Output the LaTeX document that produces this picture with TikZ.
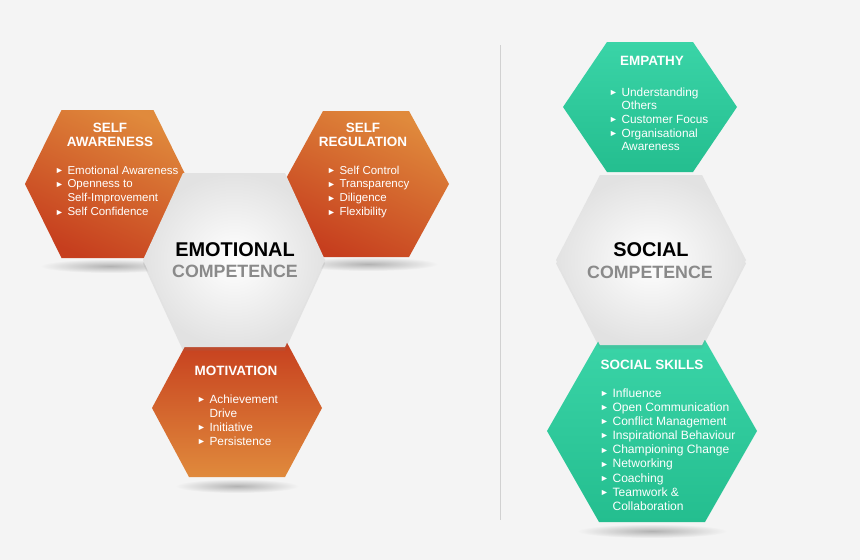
\documentclass[tikz,border=0pt]{standalone}
\usepackage{fontspec}
\setmainfont{Liberation Sans}
\usetikzlibrary{shadows}

\definecolor{bgcol}{HTML}{F4F4F4}
\definecolor{orangeLt}{HTML}{E08A3C}
\definecolor{orangeDk}{HTML}{C63E1E}
\definecolor{greenLt}{HTML}{3AD4A7}
\definecolor{greenDk}{HTML}{24BE8F}
\definecolor{titleGray}{HTML}{8A8A8A}
\definecolor{hexGray}{HTML}{E2E2E2}

% hexagon: centre x, centre y, half width, half top edge, half height
\newcommand{\hexpath}[5]{(#1-#3,#2) -- (#1-#4,#2-#5) -- (#1+#4,#2-#5) -- (#1+#3,#2) -- (#1+#4,#2+#5) -- (#1-#4,#2+#5) -- cycle}
\newcommand{\tri}{\raisebox{0.6pt}{\fontsize{7.6}{7}\selectfont ►}}

\begin{document}
\begin{tikzpicture}[x=0.03cm,y=-0.03cm]
  %----- styles
  \tikzset{
    orangehex/.style ={top color=orangeLt,bottom color=orangeDk,shading angle=-25},
    motivhex/.style  ={top color=orangeDk,bottom color=orangeLt},
    greenhex/.style  ={top color=greenLt,bottom color=greenDk},
    corehex/.style   ={inner color=white,outer color=hexGray,
                       drop shadow={opacity=0.15,shadow xshift=0pt,shadow yshift=-3pt}},
    blob/.style      ={inner color=black!30,outer color=bgcol},
    headtxt/.style   ={text=white,font=\fontsize{11.5}{12}\selectfont\bfseries,align=center},
    itemlist/.style  ={text=white,font=\fontsize{9.8}{11.9}\selectfont,anchor=base west,inner sep=0pt},
    bigtxt/.style    ={font=\fontsize{17}{17}\selectfont\bfseries},
    subtxt/.style    ={text=titleGray,font=\fontsize{15.2}{15}\selectfont\bfseries}
  }

  %==================== BACKGROUND ====================
  \fill[bgcol] (0,0) rectangle (860,560);
  \useasboundingbox (0,0) rectangle (860,560);
  \draw[black!18,line width=0.6pt] (500,45) -- (500,520);

  %----- shadows below the hexagons
  \shade[blob] (110,266) ellipse [x radius=70,y radius=7];
  \shade[blob] (368,264) ellipse [x radius=70,y radius=7];
  \shade[blob] (237,486) ellipse [x radius=62,y radius=7];
  \shade[blob] (652,531) ellipse [x radius=75,y radius=7];

  %==================== LEFT: EMOTIONAL ====================
  \shade[orangehex] \hexpath{107.5}{184}{82.5}{46}{74};
  \shade[orangehex] \hexpath{366}{184}{83}{43}{73};
  \shade[motivhex]  \hexpath{237}{408}{85}{48}{69};
  \shade[corehex]   \hexpath{234}{260}{91}{51}{87};

  %==================== RIGHT: SOCIAL ====================
  \shade[greenhex] \hexpath{650}{107}{87}{43}{65};
  \shade[greenhex] \hexpath{652}{431}{105}{53}{91};
  \shade[corehex]  \hexpath{651}{260}{95}{51}{85};

  %----- centre titles
  \node[bigtxt] (emoT) at (235,250) {EMOTIONAL};
  \node[subtxt] (emoS) at (235,271) {COMPETENCE};
  \node[bigtxt] (socT) at (651,250) {SOCIAL};
  \node[subtxt] (socS) at (650,272) {COMPETENCE};

  %----- headings
  \node[headtxt] (saHead) at (110,135) {SELF\\AWARENESS};
  \node[headtxt] (srHead) at (363,135) {SELF\\REGULATION};
  \node[headtxt] (moHead) at (236,371) {MOTIVATION};
  \node[headtxt] (emHead) at (652,61)  {EMPATHY};
  \node[headtxt] (ssHead) at (652,365) {SOCIAL SKILLS};

  %----- item lists
  \node[itemlist] (saList) at (55,174) {\begin{tabular}[t]{@{}l@{\hspace{3pt}}l@{}}
    \tri & Emotional Awareness\\
    \tri & Openness to\\
         & Self-Improvement\\
    \tri & Self Confidence
  \end{tabular}};
  \node[itemlist] (srList) at (327,174) {\begin{tabular}[t]{@{}l@{\hspace{3pt}}l@{}}
    \tri & Self Control\\
    \tri & Transparency\\
    \tri & Diligence\\
    \tri & Flexibility
  \end{tabular}};
  \node[itemlist,font=\fontsize{10.1}{12.1}\selectfont] (moList) at (197,403) {\begin{tabular}[t]{@{}l@{\hspace{3pt}}l@{}}
    \tri & Achievement\\
         & Drive\\
    \tri & Initiative\\
    \tri & Persistence
  \end{tabular}};
  \node[itemlist,font=\fontsize{10.1}{11.7}\selectfont] (emList) at (609,96) {\begin{tabular}[t]{@{}l@{\hspace{3pt}}l@{}}
    \tri & Understanding\\
         & Others\\
    \tri & Customer Focus\\
    \tri & Organisational\\
         & Awareness
  \end{tabular}};
  \node[itemlist,font=\fontsize{10.3}{12.1}\selectfont] (ssList) at (600,397) {\begin{tabular}[t]{@{}l@{\hspace{3pt}}l@{}}
    \tri & Influence\\
    \tri & Open Communication\\
    \tri & Conflict Management\\
    \tri & Inspirational Behaviour\\
    \tri & Championing Change\\
    \tri & Networking\\
    \tri & Coaching\\
    \tri & Teamwork \&\\
         & Collaboration
  \end{tabular}};
\end{tikzpicture}
\end{document}
